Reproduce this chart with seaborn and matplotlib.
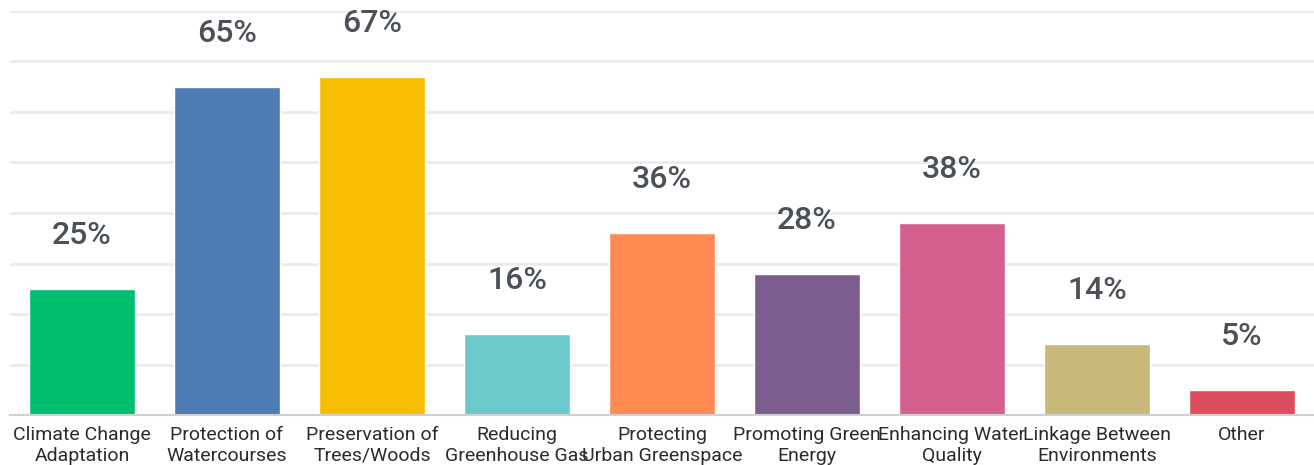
import matplotlib
matplotlib.use("Agg")
import matplotlib.pyplot as plt
import seaborn as sns
import pandas as pd

categories = [
    "Climate Change\nAdaptation",
    "Protection of\nWatercourses",
    "Preservation of\nTrees/Woods",
    "Reducing\nGreenhouse Gas",
    "Protecting\nUrban Greenspace",
    "Promoting Green\nEnergy",
    "Enhancing Water\nQuality",
    "Linkage Between\nEnvironments",
    "Other",
]
percentages = [25, 65, 67, 16, 36, 28, 38, 14, 5]
bar_colors = [
    "#00bf6f", "#4f7cb5", "#f7bd00", "#6cc8cc", "#ff8b52",
    "#7c5e8e", "#d55f8f", "#c8b87a", "#db4c5c",
]

df = pd.DataFrame({"topic": categories, "pct": percentages})

sns.set_theme(style="white")
plt.rcParams["font.family"] = ["Roboto", "DejaVu Sans"]

fig = plt.figure(figsize=(13.14, 4.65), dpi=100)
ax = fig.add_axes([9.5 / 1314, 50 / 465, 1305 / 1314, 404 / 465])

sns.barplot(
    data=df, x="topic", y="pct", hue="topic", palette=bar_colors,
    width=0.73, legend=False, saturation=1, ax=ax, zorder=3,
)

ax.set_ylim(0, 80)
ax.set_xlim(-0.5, len(categories) - 0.5)
ax.set_yticks(range(10, 81, 10))
ax.yaxis.grid(True, color="#ebebeb", linewidth=2, zorder=0)
ax.set_yticklabels([])
ax.tick_params(axis="y", length=0)
ax.tick_params(axis="x", length=0, pad=8, labelsize=14, labelcolor="#2b2b2b")
ax.set_xlabel("")
ax.set_ylabel("")
for side in ["top", "right", "left"]:
    ax.spines[side].set_visible(False)
ax.spines["bottom"].set_color("#d0d0d0")
ax.spines["bottom"].set_linewidth(1.5)
ax.spines["bottom"].set_zorder(4)

for i, v in enumerate(percentages):
    ax.annotate(
        f"{v}%", xy=(i, v), xytext=(0, 45), textcoords="offset pixels",
        ha="center", va="baseline", fontsize=23, fontweight="medium",
        color="#4b5157",
    )

fig.savefig("out.png", dpi=100)
